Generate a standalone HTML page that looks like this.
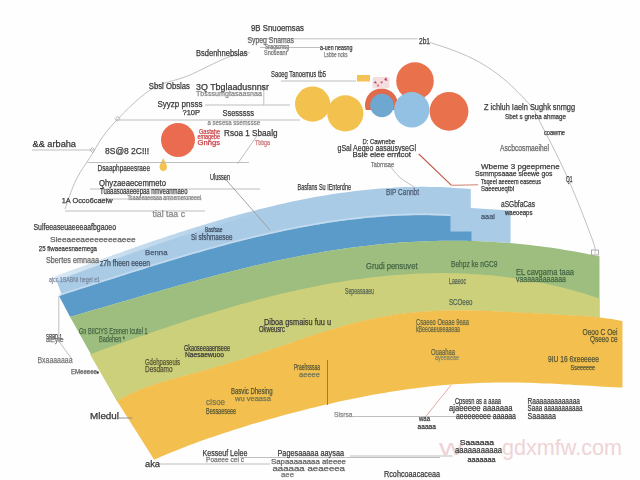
<!DOCTYPE html>
<html><head><meta charset="utf-8"><style>
html,body{margin:0;padding:0;background:#fefefe;width:640px;height:480px;overflow:hidden}
svg{display:block}
text{font-family:"Liberation Sans",sans-serif}
</style></head><body>
<svg width="640" height="480" viewBox="0 0 640 480">
<rect width="640" height="480" fill="#fefefe"/>
<path d="M55.0,276.7 L60.0,274.8 L65.0,273.0 L70.0,271.1 L75.0,269.3 L80.0,267.4 L85.0,265.6 L90.0,263.7 L95.0,261.9 L100.0,260.1 L105.0,258.3 L110.0,256.4 L115.0,254.6 L120.0,252.9 L125.0,251.1 L130.0,249.3 L135.0,247.5 L140.0,245.8 L145.0,244.1 L150.0,242.3 L155.0,240.6 L160.0,238.9 L165.0,237.3 L170.0,235.6 L175.0,234.0 L180.0,232.3 L185.0,230.7 L190.0,229.1 L195.0,227.6 L200.0,226.0 L205.0,224.5 L210.0,223.0 L215.0,221.5 L220.0,220.0 L225.0,218.5 L230.0,217.1 L235.0,215.7 L240.0,214.3 L245.0,213.0 L250.0,211.7 L255.0,210.4 L260.0,209.1 L265.0,207.9 L270.0,206.7 L275.0,205.5 L280.0,204.3 L285.0,203.2 L290.0,202.1 L295.0,201.1 L300.0,200.0 L305.0,199.0 L310.0,198.1 L315.0,197.1 L320.0,196.3 L325.0,195.4 L330.0,194.6 L335.0,193.8 L340.0,193.1 L345.0,192.4 L350.0,191.7 L355.0,191.1 L360.0,190.5 L365.0,189.9 L370.0,189.4 L375.0,189.0 L380.0,188.6 L385.0,188.2 L390.0,187.9 L395.0,187.6 L400.0,187.3 L405.0,187.1 L410.0,187.0 L415.0,186.9 L420.0,186.8 L425.0,186.8 L430.0,186.9 L435.0,187.0 L440.0,187.1 L445.0,187.3 L450.0,187.6 L455.0,187.9 L460.0,188.2 L465.0,188.6 L470.0,189.1 L470.8,189.2 L470.8,208 L510.6,210.5 L510.6,241.7 L510.0,243.1 L505.0,242.7 L500.0,242.4 L495.0,242.0 L490.0,241.8 L485.0,241.5 L480.0,241.3 L475.0,241.1 L470.0,241.0 L465.0,240.8 L460.0,240.8 L455.0,240.7 L450.0,240.7 L445.0,240.8 L440.0,240.8 L435.0,240.9 L430.0,241.1 L425.0,241.2 L420.0,241.4 L415.0,241.7 L410.0,242.0 L405.0,242.3 L400.0,242.6 L395.0,243.0 L390.0,243.4 L385.0,243.8 L380.0,244.3 L375.0,244.8 L370.0,245.4 L365.0,245.9 L360.0,246.5 L355.0,247.2 L350.0,247.8 L345.0,248.5 L340.0,249.2 L335.0,250.0 L330.0,250.8 L325.0,251.6 L320.0,252.4 L315.0,253.3 L310.0,254.2 L305.0,255.1 L300.0,256.0 L295.0,257.0 L290.0,258.0 L285.0,259.0 L280.0,260.1 L275.0,261.1 L270.0,262.2 L265.0,263.3 L260.0,264.5 L255.0,265.6 L250.0,266.8 L245.0,268.0 L240.0,269.2 L235.0,270.4 L230.0,271.7 L225.0,273.0 L220.0,274.2 L215.0,275.5 L210.0,276.9 L205.0,278.2 L200.0,279.5 L195.0,280.9 L190.0,282.3 L185.0,283.7 L180.0,285.1 L175.0,286.5 L170.0,287.9 L165.0,289.3 L160.0,290.7 L155.0,292.2 L150.0,293.6 L145.0,295.1 L140.0,296.5 L135.0,298.0 L130.0,299.4 L125.0,300.9 L120.0,302.3 L115.0,303.8 L110.0,305.3 L105.0,306.7 L100.0,308.2 L95.0,309.6 L90.0,311.1 L85.0,312.5 L80.0,313.9 L75.0,315.4 L70.0,316.8 Z" fill="#aacbe6"/>
<path d="M59.0,296.0 L64.0,294.4 L69.0,292.8 L74.0,291.2 L79.0,289.6 L84.0,288.0 L89.0,286.4 L94.0,284.8 L99.0,283.2 L104.0,281.6 L109.0,280.0 L114.0,278.4 L119.0,276.8 L124.0,275.2 L129.0,273.6 L134.0,272.0 L139.0,270.4 L144.0,268.9 L149.0,267.3 L154.0,265.8 L159.0,264.2 L164.0,262.7 L169.0,261.2 L174.0,259.7 L179.0,258.2 L184.0,256.7 L189.0,255.3 L194.0,253.8 L199.0,252.4 L204.0,251.0 L209.0,249.6 L214.0,248.2 L219.0,246.8 L224.0,245.5 L229.0,244.1 L234.0,242.8 L239.0,241.5 L244.0,240.3 L249.0,239.0 L254.0,237.8 L259.0,236.6 L264.0,235.5 L269.0,234.3 L274.0,233.2 L279.0,232.1 L284.0,231.0 L289.0,230.0 L294.0,229.0 L299.0,228.0 L304.0,227.1 L309.0,226.2 L314.0,225.3 L319.0,224.4 L324.0,223.6 L329.0,222.8 L334.0,222.1 L339.0,221.3 L344.0,220.7 L349.0,220.0 L354.0,219.4 L359.0,218.9 L364.0,218.3 L369.0,217.8 L374.0,217.4 L379.0,217.0 L384.0,216.6 L389.0,216.3 L394.0,216.0 L399.0,215.8 L404.0,215.6 L409.0,215.4 L414.0,215.3 L419.0,215.3 L424.0,215.3 L429.0,215.3 L434.0,215.4 L439.0,215.6 L444.0,215.8 L449.0,216.0 L450.5,216.1 L450.5,231.5 L471.5,231.5 L471.5,241.5 L470.0,241.0 L465.0,240.8 L460.0,240.8 L455.0,240.7 L450.0,240.7 L445.0,240.8 L440.0,240.8 L435.0,240.9 L430.0,241.1 L425.0,241.2 L420.0,241.4 L415.0,241.7 L410.0,242.0 L405.0,242.3 L400.0,242.6 L395.0,243.0 L390.0,243.4 L385.0,243.8 L380.0,244.3 L375.0,244.8 L370.0,245.4 L365.0,245.9 L360.0,246.5 L355.0,247.2 L350.0,247.8 L345.0,248.5 L340.0,249.2 L335.0,250.0 L330.0,250.8 L325.0,251.6 L320.0,252.4 L315.0,253.3 L310.0,254.2 L305.0,255.1 L300.0,256.0 L295.0,257.0 L290.0,258.0 L285.0,259.0 L280.0,260.1 L275.0,261.1 L270.0,262.2 L265.0,263.3 L260.0,264.5 L255.0,265.6 L250.0,266.8 L245.0,268.0 L240.0,269.2 L235.0,270.4 L230.0,271.7 L225.0,273.0 L220.0,274.2 L215.0,275.5 L210.0,276.9 L205.0,278.2 L200.0,279.5 L195.0,280.9 L190.0,282.3 L185.0,283.7 L180.0,285.1 L175.0,286.5 L170.0,287.9 L165.0,289.3 L160.0,290.7 L155.0,292.2 L150.0,293.6 L145.0,295.1 L140.0,296.5 L135.0,298.0 L130.0,299.4 L125.0,300.9 L120.0,302.3 L115.0,303.8 L110.0,305.3 L105.0,306.7 L100.0,308.2 L95.0,309.6 L90.0,311.1 L85.0,312.5 L80.0,313.9 L75.0,315.4 L70.0,316.8 Z" fill="#5b9bc9"/>
<path d="M70.0,316.8 L75.0,315.4 L80.0,313.9 L85.0,312.5 L90.0,311.1 L95.0,309.6 L100.0,308.2 L105.0,306.7 L110.0,305.3 L115.0,303.8 L120.0,302.3 L125.0,300.9 L130.0,299.4 L135.0,298.0 L140.0,296.5 L145.0,295.1 L150.0,293.6 L155.0,292.2 L160.0,290.7 L165.0,289.3 L170.0,287.9 L175.0,286.5 L180.0,285.1 L185.0,283.7 L190.0,282.3 L195.0,280.9 L200.0,279.5 L205.0,278.2 L210.0,276.9 L215.0,275.5 L220.0,274.2 L225.0,273.0 L230.0,271.7 L235.0,270.4 L240.0,269.2 L245.0,268.0 L250.0,266.8 L255.0,265.6 L260.0,264.5 L265.0,263.3 L270.0,262.2 L275.0,261.1 L280.0,260.1 L285.0,259.0 L290.0,258.0 L295.0,257.0 L300.0,256.0 L305.0,255.1 L310.0,254.2 L315.0,253.3 L320.0,252.4 L325.0,251.6 L330.0,250.8 L335.0,250.0 L340.0,249.2 L345.0,248.5 L350.0,247.8 L355.0,247.2 L360.0,246.5 L365.0,245.9 L370.0,245.4 L375.0,244.8 L380.0,244.3 L385.0,243.8 L390.0,243.4 L395.0,243.0 L400.0,242.6 L405.0,242.3 L410.0,242.0 L415.0,241.7 L420.0,241.4 L425.0,241.2 L430.0,241.1 L435.0,240.9 L440.0,240.8 L445.0,240.8 L450.0,240.7 L455.0,240.7 L460.0,240.8 L465.0,240.8 L470.0,241.0 L475.0,241.1 L480.0,241.3 L485.0,241.5 L490.0,241.8 L495.0,242.0 L500.0,242.4 L505.0,242.7 L510.0,243.1 L515.0,243.6 L520.0,244.0 L525.0,244.5 L530.0,245.1 L535.0,245.7 L540.0,246.3 L545.0,246.9 L550.0,247.6 L555.0,248.3 L560.0,249.1 L565.0,249.9 L570.0,250.7 L575.0,251.6 L580.0,252.5 L585.0,253.4 L590.0,254.4 L595.0,255.4 L599.5,256.3 L599.5,320 L597.0,317.2 L592.0,316.7 L587.0,316.3 L582.0,315.9 L577.0,315.6 L572.0,315.3 L567.0,315.0 L562.0,314.7 L557.0,314.4 L552.0,314.1 L547.0,313.9 L542.0,313.6 L537.0,313.3 L532.0,313.0 L527.0,312.8 L522.0,312.5 L517.0,312.2 L512.0,312.0 L507.0,311.7 L502.0,311.5 L497.0,311.2 L492.0,311.0 L487.0,310.8 L482.0,310.6 L477.0,310.5 L472.0,310.3 L467.0,310.3 L462.0,310.2 L457.0,310.2 L452.0,310.2 L447.0,310.3 L442.0,310.4 L437.0,310.6 L432.0,310.9 L427.0,311.2 L422.0,311.5 L417.0,311.9 L412.0,312.4 L407.0,313.0 L402.0,313.6 L397.0,314.3 L392.0,315.1 L387.0,315.9 L382.0,316.8 L377.0,317.7 L372.0,318.8 L367.0,319.9 L362.0,321.0 L357.0,322.2 L352.0,323.5 L347.0,324.8 L342.0,326.2 L337.0,327.7 L332.0,329.2 L327.0,330.7 L322.0,332.2 L317.0,333.8 L312.0,335.5 L307.0,337.1 L302.0,338.8 L297.0,340.5 L292.0,342.2 L287.0,343.9 L282.0,345.7 L277.0,347.4 L272.0,349.1 L267.0,350.8 L262.0,352.5 L257.0,354.2 L252.0,355.8 L247.0,357.4 L242.0,359.1 L237.0,360.6 L232.0,362.2 L227.0,363.7 L222.0,365.2 L217.0,366.6 L212.0,368.1 L207.0,369.5 L202.0,370.9 L197.0,372.2 L192.0,373.6 L187.0,374.9 L182.0,376.3 L177.0,377.7 L172.0,379.1 L167.0,380.5 L162.0,382.0 L157.0,383.6 L152.0,385.2 L147.0,387.0 L142.0,388.8 L137.0,390.9 L132.0,393.1 L127.0,395.5 L122.0,398.2 L117.0,401.1 Z" fill="#9ebe7f"/>
<path d="M90.0,354.2 L95.0,352.4 L100.0,350.6 L105.0,348.8 L110.0,347.0 L115.0,345.2 L120.0,343.4 L125.0,341.7 L130.0,339.9 L135.0,338.2 L140.0,336.4 L145.0,334.7 L150.0,333.0 L155.0,331.2 L160.0,329.5 L165.0,327.9 L170.0,326.2 L175.0,324.5 L180.0,322.9 L185.0,321.3 L190.0,319.6 L195.0,318.1 L200.0,316.5 L205.0,314.9 L210.0,313.4 L215.0,311.9 L220.0,310.4 L225.0,308.9 L230.0,307.4 L235.0,306.0 L240.0,304.6 L245.0,303.2 L250.0,301.8 L255.0,300.5 L260.0,299.1 L265.0,297.9 L270.0,296.6 L275.0,295.3 L280.0,294.1 L285.0,292.9 L290.0,291.8 L295.0,290.7 L300.0,289.6 L305.0,288.5 L310.0,287.5 L315.0,286.4 L320.0,285.5 L325.0,284.5 L330.0,283.6 L335.0,282.8 L340.0,281.9 L345.0,281.1 L350.0,280.3 L355.0,279.6 L360.0,278.9 L365.0,278.2 L370.0,277.6 L375.0,277.0 L380.0,276.5 L385.0,276.0 L390.0,275.5 L395.0,275.1 L400.0,274.7 L405.0,274.4 L410.0,274.1 L415.0,273.8 L420.0,273.6 L425.0,273.4 L430.0,273.3 L435.0,273.2 L440.0,273.1 L445.0,273.1 L450.0,273.2 L455.0,273.3 L460.0,273.4 L465.0,273.6 L470.0,273.9 L475.0,274.2 L480.0,274.5 L485.0,274.9 L490.0,275.3 L495.0,275.8 L500.0,276.4 L505.0,276.9 L510.0,277.6 L515.0,278.3 L520.0,279.0 L525.0,279.8 L530.0,280.7 L535.0,281.6 L540.0,282.6 L545.0,283.6 L550.0,284.7 L555.0,285.8 L560.0,287.0 L565.0,288.2 L570.0,289.6 L575.0,290.9 L580.0,292.3 L585.0,293.8 L590.0,295.4 L595.0,297.0 L599.5,298.5 L599.5,320 L597.0,317.2 L592.0,316.7 L587.0,316.3 L582.0,315.9 L577.0,315.6 L572.0,315.3 L567.0,315.0 L562.0,314.7 L557.0,314.4 L552.0,314.1 L547.0,313.9 L542.0,313.6 L537.0,313.3 L532.0,313.0 L527.0,312.8 L522.0,312.5 L517.0,312.2 L512.0,312.0 L507.0,311.7 L502.0,311.5 L497.0,311.2 L492.0,311.0 L487.0,310.8 L482.0,310.6 L477.0,310.5 L472.0,310.3 L467.0,310.3 L462.0,310.2 L457.0,310.2 L452.0,310.2 L447.0,310.3 L442.0,310.4 L437.0,310.6 L432.0,310.9 L427.0,311.2 L422.0,311.5 L417.0,311.9 L412.0,312.4 L407.0,313.0 L402.0,313.6 L397.0,314.3 L392.0,315.1 L387.0,315.9 L382.0,316.8 L377.0,317.7 L372.0,318.8 L367.0,319.9 L362.0,321.0 L357.0,322.2 L352.0,323.5 L347.0,324.8 L342.0,326.2 L337.0,327.7 L332.0,329.2 L327.0,330.7 L322.0,332.2 L317.0,333.8 L312.0,335.5 L307.0,337.1 L302.0,338.8 L297.0,340.5 L292.0,342.2 L287.0,343.9 L282.0,345.7 L277.0,347.4 L272.0,349.1 L267.0,350.8 L262.0,352.5 L257.0,354.2 L252.0,355.8 L247.0,357.4 L242.0,359.1 L237.0,360.6 L232.0,362.2 L227.0,363.7 L222.0,365.2 L217.0,366.6 L212.0,368.1 L207.0,369.5 L202.0,370.9 L197.0,372.2 L192.0,373.6 L187.0,374.9 L182.0,376.3 L177.0,377.7 L172.0,379.1 L167.0,380.5 L162.0,382.0 L157.0,383.6 L152.0,385.2 L147.0,387.0 L142.0,388.8 L137.0,390.9 L132.0,393.1 L127.0,395.5 L122.0,398.2 L117.0,401.1 Z" fill="#cdd07a"/>
<path d="M117.0,401.1 L122.0,398.2 L127.0,395.5 L132.0,393.1 L137.0,390.9 L142.0,388.8 L147.0,387.0 L152.0,385.2 L157.0,383.6 L162.0,382.0 L167.0,380.5 L172.0,379.1 L177.0,377.7 L182.0,376.3 L187.0,374.9 L192.0,373.6 L197.0,372.2 L202.0,370.9 L207.0,369.5 L212.0,368.1 L217.0,366.6 L222.0,365.2 L227.0,363.7 L232.0,362.2 L237.0,360.6 L242.0,359.1 L247.0,357.4 L252.0,355.8 L257.0,354.2 L262.0,352.5 L267.0,350.8 L272.0,349.1 L277.0,347.4 L282.0,345.7 L287.0,343.9 L292.0,342.2 L297.0,340.5 L302.0,338.8 L307.0,337.1 L312.0,335.5 L317.0,333.8 L322.0,332.2 L327.0,330.7 L332.0,329.2 L337.0,327.7 L342.0,326.2 L347.0,324.8 L352.0,323.5 L357.0,322.2 L362.0,321.0 L367.0,319.9 L372.0,318.8 L377.0,317.7 L382.0,316.8 L387.0,315.9 L392.0,315.1 L397.0,314.3 L402.0,313.6 L407.0,313.0 L412.0,312.4 L417.0,311.9 L422.0,311.5 L427.0,311.2 L432.0,310.9 L437.0,310.6 L442.0,310.4 L447.0,310.3 L452.0,310.2 L457.0,310.2 L462.0,310.2 L467.0,310.3 L472.0,310.3 L477.0,310.5 L482.0,310.6 L487.0,310.8 L492.0,311.0 L497.0,311.2 L502.0,311.5 L507.0,311.7 L512.0,312.0 L517.0,312.2 L522.0,312.5 L527.0,312.8 L532.0,313.0 L537.0,313.3 L542.0,313.6 L547.0,313.9 L552.0,314.1 L557.0,314.4 L562.0,314.7 L567.0,315.0 L572.0,315.3 L577.0,315.6 L582.0,315.9 L587.0,316.3 L592.0,316.7 L597.0,317.2 L602.0,317.8 L607.0,318.4 L612.0,319.1 L617.0,320.0 L622.0,320.9 L622.5,321.0 L622.5,388 L622.5,387.6 L619.2,387.5 L614.2,387.2 L609.2,387.0 L604.2,386.7 L599.2,386.4 L594.2,386.1 L589.2,385.8 L584.2,385.5 L579.2,385.2 L574.2,384.9 L569.2,384.6 L564.2,384.4 L559.2,384.1 L554.2,383.8 L549.2,383.6 L544.2,383.4 L539.2,383.2 L534.2,383.0 L529.2,382.8 L524.2,382.7 L519.2,382.6 L514.2,382.6 L509.2,382.5 L504.2,382.5 L499.2,382.5 L494.2,382.6 L489.2,382.7 L484.2,382.8 L479.2,383.0 L474.2,383.2 L469.2,383.4 L464.2,383.7 L459.2,384.0 L454.2,384.3 L449.2,384.7 L444.2,385.1 L439.2,385.6 L434.2,386.1 L429.2,386.6 L424.2,387.2 L419.2,387.8 L414.2,388.4 L409.2,389.1 L404.2,389.8 L399.2,390.5 L394.2,391.3 L389.2,392.0 L384.2,392.9 L379.2,393.7 L374.2,394.6 L369.2,395.5 L364.2,396.5 L359.2,397.5 L354.2,398.5 L349.2,399.5 L344.2,400.6 L339.2,401.6 L334.2,402.7 L329.2,403.9 L324.2,405.0 L319.2,406.2 L314.2,407.4 L309.2,408.6 L304.2,409.9 L299.2,411.2 L294.2,412.5 L289.2,413.8 L284.2,415.1 L279.2,416.5 L274.2,417.9 L269.2,419.3 L264.2,420.7 L259.2,422.2 L254.2,423.6 L249.2,425.1 L244.2,426.7 L239.2,428.2 L234.2,429.8 L229.2,431.4 L224.2,433.0 L219.2,434.7 L214.2,436.4 L209.2,438.1 L204.2,439.8 L199.2,441.6 L194.2,443.5 L189.2,445.3 L184.2,447.2 L179.2,449.2 L174.2,451.2 L169.2,453.2 L164.2,455.3 L159.2,457.5 L154.2,459.7 Z" fill="#f3c050"/>
<defs><linearGradient id="pg" x1="55" y1="0" x2="260" y2="0" gradientUnits="userSpaceOnUse"><stop offset="0" stop-color="#d8e8f4" stop-opacity="1"/><stop offset="1" stop-color="#d8e8f4" stop-opacity="0"/></linearGradient></defs>
<path d="M56.0,278.9 L60.0,277.0 L65.0,275.2 L70.0,273.3 L75.0,271.5 L80.0,269.6 L85.0,267.8 L90.0,265.9 L95.0,264.1 L100.0,262.3 L105.0,260.5 L110.0,258.6 L115.0,256.8 L120.0,255.1 L125.0,253.3 L130.0,251.5 L135.0,249.7 L140.0,248.0 L145.0,246.3 L150.0,244.5 L155.0,242.8 L160.0,241.1 L165.0,239.5 L170.0,237.8 L175.0,236.2 L180.0,234.5 L185.0,232.9 L190.0,231.3 L195.0,229.8 L200.0,228.2 L205.0,226.7 L210.0,225.2 L215.0,223.7 L220.0,222.2 L225.0,220.7 L230.0,219.3 L235.0,217.9 L240.0,216.5 L245.0,215.2 L250.0,213.9 L255.0,212.6 L260.0,211.3" fill="none" stroke="url(#pg)" stroke-width="4.4"/>
<path d="M59.0,295.0 L64.0,293.4 L69.0,291.8 L74.0,290.2 L79.0,288.6 L84.0,287.0 L89.0,285.4 L94.0,283.8 L99.0,282.2 L104.0,280.6 L109.0,279.0 L114.0,277.4 L119.0,275.8 L124.0,274.2 L129.0,272.6 L134.0,271.0 L139.0,269.4 L144.0,267.9 L149.0,266.3 L154.0,264.8 L159.0,263.2 L164.0,261.7 L169.0,260.2 L174.0,258.7 L179.0,257.2 L184.0,255.7 L189.0,254.3 L194.0,252.8 L199.0,251.4 L204.0,250.0 L209.0,248.6 L214.0,247.2 L219.0,245.8 L224.0,244.5 L229.0,243.1 L234.0,241.8 L239.0,240.5 L244.0,239.3 L249.0,238.0 L254.0,236.8 L259.0,235.6 L264.0,234.5 L269.0,233.3 L274.0,232.2 L279.0,231.1 L284.0,230.0 L289.0,229.0 L294.0,228.0 L299.0,227.0 L304.0,226.1 L309.0,225.2 L314.0,224.3 L319.0,223.4 L324.0,222.6 L329.0,221.8 L334.0,221.1 L339.0,220.3 L344.0,219.7 L349.0,219.0 L354.0,218.4 L359.0,217.9 L364.0,217.3 L369.0,216.8 L374.0,216.4 L379.0,216.0 L384.0,215.6 L389.0,215.3 L394.0,215.0 L399.0,214.8 L404.0,214.6 L409.0,214.4 L414.0,214.3 L419.0,214.3 L424.0,214.3 L429.0,214.3 L434.0,214.4 L439.0,214.6 L444.0,214.8 L449.0,215.0 L450.5,215.1" fill="none" stroke="#c9def0" stroke-width="1.6" opacity="0.8"/>
<circle cx="178.0" cy="140.0" r="17.0" fill="#ea6b50"/>
<circle cx="312.6" cy="104.1" r="17.6" fill="#f3c24e"/>
<circle cx="345.3" cy="113.4" r="18.1" fill="#f3c24e"/>
<circle cx="415.0" cy="81.0" r="18.8" fill="#e9714c"/>
<circle cx="449.0" cy="111.4" r="19.4" fill="#e9714c"/>
<clipPath id="cc"><rect x="360" y="80" width="60" height="30"/></clipPath>
<circle cx="381.5" cy="105" r="16.5" fill="#e06a4c" clip-path="url(#cc)"/>
<circle cx="382" cy="105.5" r="11.8" fill="#6ea7d0"/>
<circle cx="411.8" cy="109.8" r="17.7" fill="#93c1e3"/>
<rect x="357" y="75" width="13" height="6.5" fill="#f2c354"/>
<path d="M163.3,158 C164.5,161 167,164 167,167 C167,169.5 165.3,171 163.3,171 C161.3,171 159.6,169.5 159.6,167 C159.6,164 162,161 163.3,158 Z" fill="#f2c354"/>
<rect x="372.5" y="77" width="17" height="11.5" rx="2" fill="#f4dede"/>
<path d="M373.5,83 l2,-2 l1.5,2.5 z" fill="#b04a6a"/>
<path d="M380,82 l3,-1 l-1,3 z" fill="#d4607a"/>
<path d="M384,80 l2,-3 l1.5,4 z" fill="#c05070"/>
<circle cx="378" cy="85.5" r="1.2" fill="#e08090"/>
<path d="M65.0,209.0  C66.8,204.2 71.8,188.6 76.0,180.0 C80.2,171.4 84.3,166.2 90.0,157.5 C95.7,148.8 100.0,138.8 110.0,127.5 C120.0,116.2 137.1,98.6 150.0,90.0 C162.9,81.4 174.6,81.4 187.5,76.0 C200.4,70.6 217.1,61.4 227.5,57.5 C237.9,53.6 246.2,53.3 250.0,52.5" fill="none" stroke="#b8b8b8" stroke-width="0.90"/>
<path d="M430.0,42.5  C434.2,43.9 446.7,47.7 455.0,51.0 C463.3,54.3 471.7,57.7 480.0,62.5 C488.3,67.3 496.7,72.9 505.0,80.0 C513.3,87.1 524.3,98.3 530.0,105.0 C535.7,111.7 532.8,107.9 539.0,120.0 C545.2,132.1 558.6,157.5 567.5,177.5 C576.4,197.5 587.9,227.2 592.5,240.0 C597.1,252.8 594.6,251.7 595.0,254.0" fill="none" stroke="#b8b8b8" stroke-width="0.90"/>
<line x1="247.0" y1="38.8" x2="417.5" y2="38.8" stroke="#b8b8b8" stroke-width="0.90"/>
<rect x="591.5" y="250" width="7" height="5" fill="none" stroke="#999" stroke-width="0.8"/>
<path d="M90,150 l2.5,-2.5 l2.5,2.5 l-2.5,2.5 z" fill="none" stroke="#aaa" stroke-width="0.8"/>
<path d="M115,118.75 l2.5,-2.5 l2.5,2.5 l-2.5,2.5 z" fill="none" stroke="#aaa" stroke-width="0.8"/>
<circle cx="97.5" cy="372.5" r="1.3" fill="#333"/>
<line x1="260.0" y1="47.5" x2="320.0" y2="47.5" stroke="#b8b8b8" stroke-width="0.90"/>
<line x1="281.0" y1="81.0" x2="356.0" y2="81.0" stroke="#b8b8b8" stroke-width="0.90"/>
<line x1="205.0" y1="105.0" x2="290.0" y2="105.0" stroke="#b8b8b8" stroke-width="0.90"/>
<line x1="115.0" y1="120.0" x2="300.0" y2="120.0" stroke="#b8b8b8" stroke-width="0.90"/>
<line x1="263.8" y1="85.0" x2="263.8" y2="105.0" stroke="#b8b8b8" stroke-width="0.90"/>
<line x1="32.0" y1="150.0" x2="95.0" y2="150.0" stroke="#b8b8b8" stroke-width="0.90"/>
<line x1="87.5" y1="162.5" x2="249.0" y2="162.5" stroke="#b8b8b8" stroke-width="0.90"/>
<line x1="257.5" y1="135.0" x2="237.5" y2="163.8" stroke="#b8b8b8" stroke-width="0.90"/>
<line x1="90.0" y1="189.0" x2="260.0" y2="189.0" stroke="#b8b8b8" stroke-width="0.90"/>
<line x1="100.0" y1="199.0" x2="202.0" y2="199.0" stroke="#b8b8b8" stroke-width="0.90"/>
<line x1="65.0" y1="211.0" x2="205.0" y2="211.0" stroke="#b8b8b8" stroke-width="0.90"/>
<line x1="224.0" y1="177.5" x2="270.0" y2="230.0" stroke="#9a9a9a" stroke-width="0.90"/>
<path d="M390.0,166.0  C391.7,167.9 395.8,173.9 400.0,177.5 C404.2,181.1 412.5,185.8 415.0,187.5" fill="none" stroke="#b8b8b8" stroke-width="0.90"/>
<line x1="418.8" y1="154.0" x2="451.5" y2="185.3" stroke="#c0584a" stroke-width="1.10"/>
<line x1="451.5" y1="185.3" x2="478.0" y2="184.8" stroke="#d08070" stroke-width="1.00"/>
<line x1="58.8" y1="296.0" x2="58.8" y2="341.0" stroke="#b8b8b8" stroke-width="0.90"/>
<line x1="58.8" y1="341.0" x2="72.5" y2="360.0" stroke="#b8b8b8" stroke-width="0.90"/>
<line x1="97.0" y1="372.5" x2="75.0" y2="372.5" stroke="#b8b8b8" stroke-width="0.90"/>
<line x1="119.0" y1="418.0" x2="132.5" y2="418.0" stroke="#888" stroke-width="0.90"/>
<line x1="327.5" y1="360.0" x2="327.5" y2="405.0" stroke="#777" stroke-width="0.90"/>
<line x1="352.5" y1="416.5" x2="512.0" y2="416.5" stroke="#b8b8b8" stroke-width="0.90"/>
<line x1="451.0" y1="385.0" x2="425.0" y2="417.5" stroke="#e0a0a0" stroke-width="0.90"/>
<line x1="157.0" y1="464.0" x2="270.0" y2="464.0" stroke="#b8b8b8" stroke-width="0.90"/>
<line x1="240.0" y1="457.5" x2="440.0" y2="457.5" stroke="#b8b8b8" stroke-width="0.90"/>
<line x1="350.0" y1="456.0" x2="452.5" y2="456.0" stroke="#b8b8b8" stroke-width="0.90"/>
<text x="439" y="454.5" font-size="22" fill="#efd3d6" textLength="24" lengthAdjust="spacingAndGlyphs">w</text>
<text x="502" y="454.5" font-size="22" fill="#efd3d6" textLength="120" lengthAdjust="spacingAndGlyphs">gdxmfw.com</text>
<defs><filter id="sb" x="-5%" y="-30%" width="110%" height="160%"><feGaussianBlur stdDeviation="0.3"/></filter></defs><g filter="url(#sb)">
<text x="251.0" y="30.7" font-size="8.3" fill="#3a3a3a" stroke="#3a3a3a" stroke-width="0.25" textLength="53.0" lengthAdjust="spacingAndGlyphs">9B Snuoemsas</text>
<text x="247.5" y="42.7" font-size="8.3" fill="#666" stroke="#666" stroke-width="0.25" textLength="46.5" lengthAdjust="spacingAndGlyphs">Sypeg Snamas</text>
<text x="265.0" y="48.7" font-size="6.5" fill="#777" stroke="#777" stroke-width="0.25" textLength="24.0" lengthAdjust="spacingAndGlyphs">Snagscmsg</text>
<text x="264.0" y="55.2" font-size="6.5" fill="#777" stroke="#777" stroke-width="0.25" textLength="23.5" lengthAdjust="spacingAndGlyphs">Snoseanr</text>
<text x="196.0" y="55.7" font-size="8.3" fill="#3a3a3a" stroke="#3a3a3a" stroke-width="0.25" textLength="51.5" lengthAdjust="spacingAndGlyphs">Bsdenhnebslas</text>
<text x="271.0" y="76.7" font-size="8.3" fill="#3a3a3a" stroke="#3a3a3a" stroke-width="0.25" textLength="55.0" lengthAdjust="spacingAndGlyphs">Saoeg Tanoemus tb5</text>
<text x="148.8" y="88.7" font-size="8.3" fill="#3a3a3a" stroke="#3a3a3a" stroke-width="0.25" textLength="41.2" lengthAdjust="spacingAndGlyphs">Sbsl Obslas</text>
<text x="196.0" y="89.7" font-size="8.3" fill="#3a3a3a" stroke="#3a3a3a" stroke-width="0.25" textLength="73.0" lengthAdjust="spacingAndGlyphs">3Q Tbglaadusnnsr</text>
<text x="196.0" y="95.7" font-size="7.0" fill="#888" stroke="#888" stroke-width="0.25" textLength="66.0" lengthAdjust="spacingAndGlyphs">Tbsssumgtasaasnaa</text>
<text x="157.5" y="107.2" font-size="8.3" fill="#3a3a3a" stroke="#3a3a3a" stroke-width="0.25" textLength="45.0" lengthAdjust="spacingAndGlyphs">Syyzp pnsss</text>
<text x="182.5" y="114.7" font-size="7.0" fill="#3a3a3a" stroke="#3a3a3a" stroke-width="0.25" textLength="17.5" lengthAdjust="spacingAndGlyphs">?10P</text>
<text x="222.5" y="115.7" font-size="8.3" fill="#3a3a3a" stroke="#3a3a3a" stroke-width="0.25" textLength="31.5" lengthAdjust="spacingAndGlyphs">Ssesssss</text>
<text x="207.5" y="124.7" font-size="7.0" fill="#888" stroke="#888" stroke-width="0.25" textLength="52.5" lengthAdjust="spacingAndGlyphs">a sesesa ssemssse</text>
<text x="320.0" y="49.7" font-size="7.0" fill="#3a3a3a" stroke="#3a3a3a" stroke-width="0.25" textLength="32.5" lengthAdjust="spacingAndGlyphs">a-uen neasng</text>
<text x="324.0" y="56.7" font-size="6.5" fill="#777" stroke="#777" stroke-width="0.25" textLength="23.5" lengthAdjust="spacingAndGlyphs">Lsbbe ncks</text>
<text x="419.0" y="43.7" font-size="8.3" fill="#3a3a3a" stroke="#3a3a3a" stroke-width="0.25" textLength="11.0" lengthAdjust="spacingAndGlyphs">2b1</text>
<text x="484.0" y="109.7" font-size="8.3" fill="#3a3a3a" stroke="#3a3a3a" stroke-width="0.25" textLength="91.0" lengthAdjust="spacingAndGlyphs">Z ichluh Iaeln Sughk snmgg</text>
<text x="505.0" y="118.7" font-size="7.0" fill="#3a3a3a" stroke="#3a3a3a" stroke-width="0.25" textLength="61.0" lengthAdjust="spacingAndGlyphs">Sbet s gneba ahmage</text>
<text x="32.5" y="147.2" font-size="8.3" fill="#3a3a3a" stroke="#3a3a3a" stroke-width="0.25" textLength="43.5" lengthAdjust="spacingAndGlyphs">&amp;&amp; arbaha</text>
<text x="105.0" y="153.7" font-size="8.3" fill="#3a3a3a" stroke="#3a3a3a" stroke-width="0.25" textLength="44.0" lengthAdjust="spacingAndGlyphs">8S@8 2C!!!</text>
<text x="97.5" y="170.7" font-size="8.3" fill="#3a3a3a" stroke="#3a3a3a" stroke-width="0.25" textLength="52.5" lengthAdjust="spacingAndGlyphs">Dsaaphpaeesraee</text>
<text x="99.0" y="185.7" font-size="8.3" fill="#3a3a3a" stroke="#3a3a3a" stroke-width="0.25" textLength="67.0" lengthAdjust="spacingAndGlyphs">Qhyzaeaecemmeto</text>
<text x="100.0" y="193.7" font-size="8.3" fill="#3a3a3a" stroke="#3a3a3a" stroke-width="0.25" textLength="87.5" lengthAdjust="spacingAndGlyphs">Tuaaasoaaeeepaa nmveanmaeo</text>
<text x="127.5" y="199.7" font-size="7.0" fill="#888" stroke="#888" stroke-width="0.25" textLength="73.5" lengthAdjust="spacingAndGlyphs">Tsaaeeaeeaaa amnemeroneeel</text>
<text x="61.7" y="203.0" font-size="7.8" fill="#3a3a3a" stroke="#3a3a3a" stroke-width="0.25" textLength="51.0" lengthAdjust="spacingAndGlyphs">1A Occo6caeiw</text>
<text x="33.5" y="229.7" font-size="8.3" fill="#3a3a3a" stroke="#3a3a3a" stroke-width="0.25" textLength="82.5" lengthAdjust="spacingAndGlyphs">Sulfeeaseuaeeeaafbgaoeo</text>
<text x="50.0" y="242.2" font-size="7.7" fill="#666" stroke="#666" stroke-width="0.25" textLength="85.6" lengthAdjust="spacingAndGlyphs">Sleeaeeaeeeeeeeaeee</text>
<text x="38.8" y="250.7" font-size="7.6" fill="#3a3a3a" stroke="#3a3a3a" stroke-width="0.25" textLength="58.2" lengthAdjust="spacingAndGlyphs">25 fiwaeaesnaemega</text>
<text x="46.0" y="262.7" font-size="8.3" fill="#666" stroke="#666" stroke-width="0.25" textLength="53.0" lengthAdjust="spacingAndGlyphs">Sbertes emnaaa</text>
<text x="49.0" y="282.2" font-size="7.0" fill="#7a8aa0" stroke="#7a8aa0" stroke-width="0.25" textLength="51.0" lengthAdjust="spacingAndGlyphs">ajcc 1SABNI hegel e1</text>
<text x="100.0" y="265.7" font-size="8.3" fill="#3d4d60" stroke="#3d4d60" stroke-width="0.25" textLength="50.0" lengthAdjust="spacingAndGlyphs">z7h fheen eeeen</text>
<text x="145.0" y="254.7" font-size="7.0" fill="#4a5a70" stroke="#4a5a70" stroke-width="0.25" textLength="22.5" lengthAdjust="spacingAndGlyphs">Benna</text>
<text x="46.0" y="339.3" font-size="7.8" fill="#3a3a3a" stroke="#3a3a3a" stroke-width="0.25" textLength="16.0" lengthAdjust="spacingAndGlyphs">SRBD 1</text>
<text x="46.0" y="342.2" font-size="6.5" fill="#777" stroke="#777" stroke-width="0.25" textLength="17.7" lengthAdjust="spacingAndGlyphs">aEyie</text>
<text x="79.0" y="333.7" font-size="8.3" fill="#464" stroke="#464" stroke-width="0.25" textLength="68.5" lengthAdjust="spacingAndGlyphs">Gn BIICIYS Ezenen Icutel 1</text>
<text x="99.0" y="342.2" font-size="8.3" fill="#464" stroke="#464" stroke-width="0.25" textLength="26.0" lengthAdjust="spacingAndGlyphs">Badehen *</text>
<text x="37.5" y="362.7" font-size="8.3" fill="#777" stroke="#777" stroke-width="0.25" textLength="35.0" lengthAdjust="spacingAndGlyphs">Bxaaaaaaa</text>
<text x="71.0" y="374.2" font-size="8.1" fill="#666" stroke="#666" stroke-width="0.25" textLength="26.0" lengthAdjust="spacingAndGlyphs">EMeeeee</text>
<text x="90.0" y="419.4" font-size="8.3" fill="#3a3a3a" stroke="#3a3a3a" stroke-width="0.25" textLength="29.0" lengthAdjust="spacingAndGlyphs">Mledul</text>
<text x="199.0" y="134.2" font-size="7.0" fill="#c8454a" stroke="#c8454a" stroke-width="0.25" textLength="21.0" lengthAdjust="spacingAndGlyphs">Gastahe</text>
<text x="197.5" y="139.2" font-size="6.5" fill="#c8454a" stroke="#c8454a" stroke-width="0.25" textLength="22.5" lengthAdjust="spacingAndGlyphs">emagebe</text>
<text x="197.5" y="144.7" font-size="6.5" fill="#c8454a" stroke="#c8454a" stroke-width="0.25" textLength="22.5" lengthAdjust="spacingAndGlyphs">Gnngs</text>
<text x="224.0" y="135.7" font-size="8.3" fill="#3a3a3a" stroke="#3a3a3a" stroke-width="0.25" textLength="53.5" lengthAdjust="spacingAndGlyphs">Rsoa 1 Sbaalg</text>
<text x="255.0" y="144.7" font-size="6.5" fill="#c77" stroke="#c77" stroke-width="0.25" textLength="15.0" lengthAdjust="spacingAndGlyphs">Tbbga</text>
<text x="210.0" y="179.7" font-size="8.3" fill="#3a3a3a" stroke="#3a3a3a" stroke-width="0.25" textLength="20.0" lengthAdjust="spacingAndGlyphs">Ulussen</text>
<text x="297.5" y="189.7" font-size="8.3" fill="#3a3a3a" stroke="#3a3a3a" stroke-width="0.25" textLength="53.5" lengthAdjust="spacingAndGlyphs">Basfans Su IEnterdne</text>
<text x="152.5" y="217.2" font-size="8.3" fill="#888" stroke="#888" stroke-width="0.25" textLength="32.5" lengthAdjust="spacingAndGlyphs">tial taa c</text>
<text x="205.0" y="231.7" font-size="6.5" fill="#3d4d60" stroke="#3d4d60" stroke-width="0.25" textLength="17.5" lengthAdjust="spacingAndGlyphs">Basfsae</text>
<text x="191.0" y="239.7" font-size="8.3" fill="#3d4d60" stroke="#3d4d60" stroke-width="0.25" textLength="41.5" lengthAdjust="spacingAndGlyphs">Si sfshmaesee</text>
<text x="362.5" y="143.7" font-size="7.0" fill="#3a3a3a" stroke="#3a3a3a" stroke-width="0.25" textLength="32.5" lengthAdjust="spacingAndGlyphs">D: Cawnebe</text>
<text x="337.5" y="150.7" font-size="8.3" fill="#3a3a3a" stroke="#3a3a3a" stroke-width="0.25" textLength="78.5" lengthAdjust="spacingAndGlyphs">gSal Aeqeo aasausyseGl</text>
<text x="352.5" y="157.2" font-size="7.0" fill="#3a3a3a" stroke="#3a3a3a" stroke-width="0.25" textLength="58.5" lengthAdjust="spacingAndGlyphs">Bsie eiee erntcot</text>
<text x="371.0" y="167.2" font-size="7.0" fill="#777" stroke="#777" stroke-width="0.25" textLength="23.0" lengthAdjust="spacingAndGlyphs">Tabrnsae</text>
<text x="386.0" y="194.7" font-size="8.3" fill="#4a5a70" stroke="#4a5a70" stroke-width="0.25" textLength="33.0" lengthAdjust="spacingAndGlyphs">BIP Cannbt</text>
<text x="544.0" y="134.7" font-size="7.0" fill="#3a3a3a" stroke="#3a3a3a" stroke-width="0.25" textLength="21.0" lengthAdjust="spacingAndGlyphs">coawme</text>
<text x="500.0" y="150.7" font-size="8.3" fill="#666" stroke="#666" stroke-width="0.25" textLength="49.0" lengthAdjust="spacingAndGlyphs">Ascbcosmaeihel</text>
<text x="481.0" y="169.2" font-size="7.8" fill="#3a3a3a" stroke="#3a3a3a" stroke-width="0.25" textLength="78.7" lengthAdjust="spacingAndGlyphs">Wbeme 3 pgeepmene</text>
<text x="475.0" y="176.2" font-size="7.7" fill="#3a3a3a" stroke="#3a3a3a" stroke-width="0.25" textLength="77.5" lengthAdjust="spacingAndGlyphs">Ssmmpsaaae sleewe gos</text>
<text x="481.0" y="183.7" font-size="7.0" fill="#3a3a3a" stroke="#3a3a3a" stroke-width="0.25" textLength="60.0" lengthAdjust="spacingAndGlyphs">Tsqeel aeeeem easeeus</text>
<text x="481.0" y="190.7" font-size="7.0" fill="#3a3a3a" stroke="#3a3a3a" stroke-width="0.25" textLength="33.0" lengthAdjust="spacingAndGlyphs">Saeeeueqtbl</text>
<text x="566.0" y="181.7" font-size="8.3" fill="#3a3a3a" stroke="#3a3a3a" stroke-width="0.25" textLength="6.5" lengthAdjust="spacingAndGlyphs">Q1</text>
<text x="501.0" y="207.2" font-size="8.3" fill="#3a3a3a" stroke="#3a3a3a" stroke-width="0.25" textLength="34.0" lengthAdjust="spacingAndGlyphs">aSGbfaCas</text>
<text x="505.0" y="214.7" font-size="7.0" fill="#3a3a3a" stroke="#3a3a3a" stroke-width="0.25" textLength="27.5" lengthAdjust="spacingAndGlyphs">waeoeaps</text>
<text x="481.0" y="218.7" font-size="7.0" fill="#4a5a70" stroke="#4a5a70" stroke-width="0.25" textLength="14.0" lengthAdjust="spacingAndGlyphs">aaal</text>
<text x="264.0" y="324.7" font-size="8.3" fill="#3a3a3a" stroke="#3a3a3a" stroke-width="0.25" textLength="67.0" lengthAdjust="spacingAndGlyphs">Diboa gsmaisu fuu u</text>
<text x="259.0" y="332.2" font-size="8.3" fill="#3a3a3a" stroke="#3a3a3a" stroke-width="0.25" textLength="26.0" lengthAdjust="spacingAndGlyphs">Okweusrc</text>
<text x="184.0" y="350.7" font-size="8.3" fill="#3a3a3a" stroke="#3a3a3a" stroke-width="0.25" textLength="46.0" lengthAdjust="spacingAndGlyphs">Gkaoseeaaenseee</text>
<text x="145.0" y="364.7" font-size="8.3" fill="#553" stroke="#553" stroke-width="0.25" textLength="35.0" lengthAdjust="spacingAndGlyphs">Gdehpaseuis</text>
<text x="145.0" y="372.2" font-size="8.3" fill="#553" stroke="#553" stroke-width="0.25" textLength="27.5" lengthAdjust="spacingAndGlyphs">Desdamo</text>
<text x="185.0" y="357.2" font-size="7.0" fill="#3a3a3a" stroke="#3a3a3a" stroke-width="0.25" textLength="39.0" lengthAdjust="spacingAndGlyphs">Naesaewuoo</text>
<text x="366.0" y="268.7" font-size="8.3" fill="#464" stroke="#464" stroke-width="0.25" textLength="51.5" lengthAdjust="spacingAndGlyphs">Grudi pensuvet</text>
<text x="451.0" y="267.2" font-size="8.3" fill="#464" stroke="#464" stroke-width="0.25" textLength="46.5" lengthAdjust="spacingAndGlyphs">Behpz ke nGC9</text>
<text x="345.0" y="293.7" font-size="8.3" fill="#565" stroke="#565" stroke-width="0.25" textLength="29.0" lengthAdjust="spacingAndGlyphs">Sepeasaaeu</text>
<text x="449.0" y="283.7" font-size="8.3" fill="#565" stroke="#565" stroke-width="0.25" textLength="17.0" lengthAdjust="spacingAndGlyphs">Laaeoc</text>
<text x="449.0" y="304.7" font-size="8.3" fill="#565" stroke="#565" stroke-width="0.25" textLength="23.5" lengthAdjust="spacingAndGlyphs">SCOeeo</text>
<text x="416.0" y="324.7" font-size="8.3" fill="#664" stroke="#664" stroke-width="0.25" textLength="53.0" lengthAdjust="spacingAndGlyphs">Csaeeo Oeaae 9eaa</text>
<text x="416.0" y="332.2" font-size="8.3" fill="#664" stroke="#664" stroke-width="0.25" textLength="44.0" lengthAdjust="spacingAndGlyphs">kBeeoaeueeaaeaa</text>
<text x="431.0" y="354.7" font-size="8.3" fill="#664" stroke="#664" stroke-width="0.25" textLength="24.0" lengthAdjust="spacingAndGlyphs">Ouaahaa</text>
<text x="435.0" y="359.7" font-size="6.5" fill="#886" stroke="#886" stroke-width="0.25" textLength="24.0" lengthAdjust="spacingAndGlyphs">ayeeaeae</text>
<text x="516.0" y="274.7" font-size="8.3" fill="#464" stroke="#464" stroke-width="0.25" textLength="58.0" lengthAdjust="spacingAndGlyphs">EL cavgama taaa</text>
<text x="516.0" y="282.2" font-size="8.3" fill="#464" stroke="#464" stroke-width="0.25" textLength="50.0" lengthAdjust="spacingAndGlyphs">vaaaaaaaaaaaa</text>
<text x="582.5" y="334.7" font-size="8.3" fill="#553" stroke="#553" stroke-width="0.25" textLength="35.0" lengthAdjust="spacingAndGlyphs">Oeoo C Oei</text>
<text x="590.0" y="342.2" font-size="8.3" fill="#553" stroke="#553" stroke-width="0.25" textLength="27.5" lengthAdjust="spacingAndGlyphs">Qseeo ce</text>
<text x="548.0" y="361.7" font-size="8.3" fill="#553" stroke="#553" stroke-width="0.25" textLength="51.0" lengthAdjust="spacingAndGlyphs">9IU 16 6xeeeeee</text>
<text x="570.6" y="370.2" font-size="6.9" fill="#553" stroke="#553" stroke-width="0.25" textLength="24.4" lengthAdjust="spacingAndGlyphs">Sseeeeee</text>
<text x="231.0" y="393.7" font-size="8.3" fill="#553" stroke="#553" stroke-width="0.25" textLength="41.5" lengthAdjust="spacingAndGlyphs">Basvic Dhesing</text>
<text x="235.0" y="400.7" font-size="7.0" fill="#775" stroke="#775" stroke-width="0.25" textLength="36.0" lengthAdjust="spacingAndGlyphs">wu veaasa</text>
<text x="206.0" y="404.7" font-size="8.3" fill="#775" stroke="#775" stroke-width="0.25" textLength="19.0" lengthAdjust="spacingAndGlyphs">cIsoe</text>
<text x="206.0" y="413.7" font-size="8.3" fill="#553" stroke="#553" stroke-width="0.25" textLength="30.0" lengthAdjust="spacingAndGlyphs">Bessaeseee</text>
<text x="294.0" y="369.7" font-size="8.3" fill="#553" stroke="#553" stroke-width="0.25" textLength="26.0" lengthAdjust="spacingAndGlyphs">Praehsssaa</text>
<text x="299.0" y="377.2" font-size="7.0" fill="#775" stroke="#775" stroke-width="0.25" textLength="21.0" lengthAdjust="spacingAndGlyphs">aeeee</text>
<text x="202.5" y="455.7" font-size="8.3" fill="#3a3a3a" stroke="#3a3a3a" stroke-width="0.25" textLength="45.0" lengthAdjust="spacingAndGlyphs">Kesseuf Lelee</text>
<text x="206.0" y="461.7" font-size="7.0" fill="#777" stroke="#777" stroke-width="0.25" textLength="38.0" lengthAdjust="spacingAndGlyphs">Poaeee cei c</text>
<text x="277.5" y="455.7" font-size="8.3" fill="#3a3a3a" stroke="#3a3a3a" stroke-width="0.25" textLength="66.5" lengthAdjust="spacingAndGlyphs">Pagesaaaaa aaysaa</text>
<text x="271.0" y="463.7" font-size="7.0" fill="#666" stroke="#666" stroke-width="0.25" textLength="75.0" lengthAdjust="spacingAndGlyphs">Sapaaaaaaaa ateeee</text>
<text x="272.5" y="470.7" font-size="7.0" fill="#666" stroke="#666" stroke-width="0.25" textLength="72.5" lengthAdjust="spacingAndGlyphs">aaaaaa aeaeeea</text>
<text x="281.0" y="477.2" font-size="6.5" fill="#777" stroke="#777" stroke-width="0.25" textLength="13.0" lengthAdjust="spacingAndGlyphs">aee</text>
<text x="334.0" y="417.2" font-size="7.0" fill="#888" stroke="#888" stroke-width="0.25" textLength="18.5" lengthAdjust="spacingAndGlyphs">Sisrsa</text>
<text x="419.0" y="420.7" font-size="7.0" fill="#3a3a3a" stroke="#3a3a3a" stroke-width="0.25" textLength="11.0" lengthAdjust="spacingAndGlyphs">waa</text>
<text x="417.5" y="428.7" font-size="7.0" fill="#3a3a3a" stroke="#3a3a3a" stroke-width="0.25" textLength="18.5" lengthAdjust="spacingAndGlyphs">aaaaa</text>
<text x="455.0" y="403.7" font-size="8.3" fill="#3a3a3a" stroke="#3a3a3a" stroke-width="0.25" textLength="46.0" lengthAdjust="spacingAndGlyphs">Cpsesn as a aaaa</text>
<text x="449.0" y="410.7" font-size="8.3" fill="#3a3a3a" stroke="#3a3a3a" stroke-width="0.25" textLength="63.5" lengthAdjust="spacingAndGlyphs">ajaeeeee aaaaaaa</text>
<text x="456.0" y="418.7" font-size="8.3" fill="#3a3a3a" stroke="#3a3a3a" stroke-width="0.25" textLength="60.0" lengthAdjust="spacingAndGlyphs">aeeeeeeee aaaaaa</text>
<text x="527.5" y="403.7" font-size="8.3" fill="#3a3a3a" stroke="#3a3a3a" stroke-width="0.25" textLength="52.5" lengthAdjust="spacingAndGlyphs">Raaaaaaaaaaaaa</text>
<text x="527.5" y="410.7" font-size="8.3" fill="#3a3a3a" stroke="#3a3a3a" stroke-width="0.25" textLength="55.0" lengthAdjust="spacingAndGlyphs">Saaa aaaaaaaaaaa</text>
<text x="527.5" y="418.7" font-size="8.3" fill="#3a3a3a" stroke="#3a3a3a" stroke-width="0.25" textLength="28.5" lengthAdjust="spacingAndGlyphs">Saaaaaa</text>
<text x="384.0" y="477.2" font-size="8.3" fill="#3a3a3a" stroke="#3a3a3a" stroke-width="0.25" textLength="56.0" lengthAdjust="spacingAndGlyphs">Rcohcoaacaceaa</text>
<text x="459.7" y="445.0" font-size="6.6" fill="#3a3a3a" stroke="#3a3a3a" stroke-width="0.25" textLength="34.3" lengthAdjust="spacingAndGlyphs">Saaaaaa</text>
<text x="455.0" y="453.4" font-size="8.3" fill="#3a3a3a" stroke="#3a3a3a" stroke-width="0.25" textLength="47.0" lengthAdjust="spacingAndGlyphs">aaaaaaaaaaa</text>
<text x="467.5" y="461.6" font-size="6.5" fill="#3a3a3a" stroke="#3a3a3a" stroke-width="0.25" textLength="28.1" lengthAdjust="spacingAndGlyphs">aaaaaaa</text>
<text x="145.0" y="467.2" font-size="8.3" fill="#3a3a3a" stroke="#3a3a3a" stroke-width="0.25" textLength="15.0" lengthAdjust="spacingAndGlyphs">aka</text>
</g>
</svg></body></html>
